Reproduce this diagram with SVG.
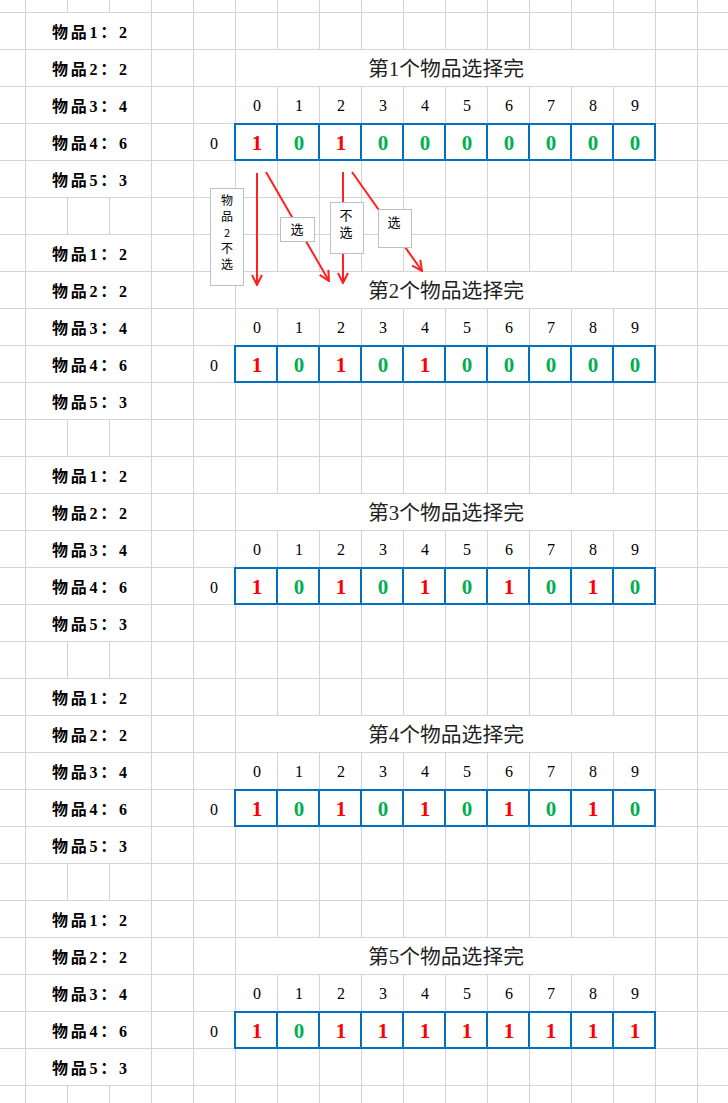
<svg xmlns="http://www.w3.org/2000/svg" width="728" height="1103" viewBox="0 0 728 1103">
<style>
.bg{fill:#ffffff}
.grid{stroke:#d4d4d4;stroke-width:1;fill:none}
.lbl{font-family:"Liberation Serif","Noto Sans CJK SC",serif;font-size:16px;font-weight:bold;fill:#000}
.title{font-family:"Liberation Serif","Noto Sans CJK SC",serif;font-size:20px;fill:#222;text-anchor:middle}
.hd{font-family:"Liberation Serif",serif;font-size:16px;fill:#000;text-anchor:middle}
.v1{font-family:"Liberation Serif",serif;font-size:21px;font-weight:bold;fill:#ff0000;text-anchor:middle}
.v0{font-family:"Liberation Serif",serif;font-size:21px;font-weight:bold;fill:#00b050;text-anchor:middle}
.tbl{fill:none;stroke:#0070c0;stroke-width:2}
.box{fill:#ffffff;stroke:#bfbfbf;stroke-width:1}
.ct{font-family:"Noto Sans CJK SC",sans-serif;font-size:13px;fill:#000;text-anchor:middle}
.cs{font-family:"Noto Sans CJK SC",sans-serif;font-size:12px;fill:#000;text-anchor:middle}
.arr{stroke:#ff2020;stroke-width:2;fill:none}
</style>
<defs>
<marker id="ah" markerUnits="userSpaceOnUse" viewBox="0 0 12 12" markerWidth="12" markerHeight="12" refX="11" refY="6" orient="auto">
<path d="M1,1 L11,6 L1,11" fill="none" stroke="#ff2020" stroke-width="2"/>
</marker>
<g id="labels">
<text class="lbl" x="52" y="37.5" textLength="75" lengthAdjust="spacing">物品1：2</text>
<text class="lbl" x="52" y="74.5" textLength="75" lengthAdjust="spacing">物品2：2</text>
<text class="lbl" x="52" y="111.5" textLength="75" lengthAdjust="spacing">物品3：4</text>
<text class="lbl" x="52" y="148.5" textLength="75" lengthAdjust="spacing">物品4：6</text>
<text class="lbl" x="52" y="185.5" textLength="75" lengthAdjust="spacing">物品5：3</text>
<text class="hd" x="214" y="149">0</text>
<g>
<text class="hd" x="257" y="111">0</text><text class="hd" x="299" y="111">1</text><text class="hd" x="341" y="111">2</text><text class="hd" x="383" y="111">3</text><text class="hd" x="425" y="111">4</text><text class="hd" x="467" y="111">5</text><text class="hd" x="509" y="111">6</text><text class="hd" x="551" y="111">7</text><text class="hd" x="593" y="111">8</text><text class="hd" x="635" y="111">9</text>
</g>
<rect class="tbl" x="235" y="124" width="420" height="36"/>
<path class="tbl" d="M277,124V160M319,124V160M361,124V160M403,124V160M445,124V160M487,124V160M529,124V160M571,124V160M613,124V160"/>
</g>
</defs>
<rect class="bg" x="0" y="0" width="728" height="1103"/>
<g id="grid" class="grid">
<path d="M0,12.5H728M0,49.5H728M0,86.5H728M0,123.5H728M0,160.5H728M0,197.5H728M0,234.5H728M0,271.5H728M0,308.5H728M0,345.5H728M0,382.5H728M0,419.5H728M0,456.5H728M0,493.5H728M0,530.5H728M0,567.5H728M0,604.5H728M0,641.5H728M0,678.5H728M0,715.5H728M0,752.5H728M0,789.5H728M0,826.5H728M0,863.5H728M0,900.5H728M0,937.5H728M0,974.5H728M0,1011.5H728M0,1048.5H728M0,1085.5H728"/>
<path d="M25.5,0V1103M151.5,0V1103M193.5,0V1103M235.5,0V1103M655.5,0V1103M697.5,0V1103"/>
<path d="M67.5,0V12.5M67.5,197.5V234.5M67.5,419.5V456.5M67.5,641.5V678.5M67.5,863.5V900.5M67.5,1085.5V1103M109.5,0V12.5M109.5,197.5V234.5M109.5,419.5V456.5M109.5,641.5V678.5M109.5,863.5V900.5M109.5,1085.5V1103"/>
<path id="vcol" d="M277.5,0V49.5M277.5,86.5V271.5M277.5,308.5V493.5M277.5,530.5V715.5M277.5,752.5V937.5M277.5,974.5V1103"/>
<use href="#vcol" x="42"/><use href="#vcol" x="84"/><use href="#vcol" x="126"/><use href="#vcol" x="168"/><use href="#vcol" x="210"/><use href="#vcol" x="252"/><use href="#vcol" x="294"/><use href="#vcol" x="336"/>
</g>
<g id="block1">
<use href="#labels"/>
<text class="title" x="446" y="76" textLength="156" lengthAdjust="spacingAndGlyphs">第1个物品选择完</text>
<text class="v1" x="257" y="150">1</text><text class="v0" x="299" y="150">0</text><text class="v1" x="341" y="150">1</text><text class="v0" x="383" y="150">0</text><text class="v0" x="425" y="150">0</text><text class="v0" x="467" y="150">0</text><text class="v0" x="509" y="150">0</text><text class="v0" x="551" y="150">0</text><text class="v0" x="593" y="150">0</text><text class="v0" x="635" y="150">0</text>
</g>
<g id="block2" transform="translate(0,222)">
<use href="#labels"/>
<text class="title" x="446" y="76" textLength="156" lengthAdjust="spacingAndGlyphs">第2个物品选择完</text>
<text class="v1" x="257" y="150">1</text><text class="v0" x="299" y="150">0</text><text class="v1" x="341" y="150">1</text><text class="v0" x="383" y="150">0</text><text class="v1" x="425" y="150">1</text><text class="v0" x="467" y="150">0</text><text class="v0" x="509" y="150">0</text><text class="v0" x="551" y="150">0</text><text class="v0" x="593" y="150">0</text><text class="v0" x="635" y="150">0</text>
</g>
<g id="block3" transform="translate(0,444)">
<use href="#labels"/>
<text class="title" x="446" y="76" textLength="156" lengthAdjust="spacingAndGlyphs">第3个物品选择完</text>
<text class="v1" x="257" y="150">1</text><text class="v0" x="299" y="150">0</text><text class="v1" x="341" y="150">1</text><text class="v0" x="383" y="150">0</text><text class="v1" x="425" y="150">1</text><text class="v0" x="467" y="150">0</text><text class="v1" x="509" y="150">1</text><text class="v0" x="551" y="150">0</text><text class="v1" x="593" y="150">1</text><text class="v0" x="635" y="150">0</text>
</g>
<g id="block4" transform="translate(0,666)">
<use href="#labels"/>
<text class="title" x="446" y="76" textLength="156" lengthAdjust="spacingAndGlyphs">第4个物品选择完</text>
<text class="v1" x="257" y="150">1</text><text class="v0" x="299" y="150">0</text><text class="v1" x="341" y="150">1</text><text class="v0" x="383" y="150">0</text><text class="v1" x="425" y="150">1</text><text class="v0" x="467" y="150">0</text><text class="v1" x="509" y="150">1</text><text class="v0" x="551" y="150">0</text><text class="v1" x="593" y="150">1</text><text class="v0" x="635" y="150">0</text>
</g>
<g id="block5" transform="translate(0,888)">
<use href="#labels"/>
<text class="title" x="446" y="76" textLength="156" lengthAdjust="spacingAndGlyphs">第5个物品选择完</text>
<text class="v1" x="257" y="150">1</text><text class="v0" x="299" y="150">0</text><text class="v1" x="341" y="150">1</text><text class="v1" x="383" y="150">1</text><text class="v1" x="425" y="150">1</text><text class="v1" x="467" y="150">1</text><text class="v1" x="509" y="150">1</text><text class="v1" x="551" y="150">1</text><text class="v1" x="593" y="150">1</text><text class="v1" x="635" y="150">1</text>
</g>
<g id="connectors">
<path class="arr" d="M257,173V285" marker-end="url(#ah)"/>
<path class="arr" d="M266,172L329,281" marker-end="url(#ah)"/>
<path class="arr" d="M343,172V283" marker-end="url(#ah)"/>
<path class="arr" d="M352,172L422,271" marker-end="url(#ah)"/>
</g>
<g id="note1">
<rect class="box" x="210.5" y="188.5" width="33" height="97"/>
<text class="cs"><tspan x="227" y="205">物</tspan><tspan x="227" y="221">品</tspan><tspan x="227" y="237" style="font-size:11px">2</tspan><tspan x="227" y="253">不</tspan><tspan x="227" y="269">选</tspan></text>
</g>
<g id="note2">
<rect class="box" x="280.5" y="217.5" width="34" height="24"/>
<text class="ct" x="297" y="234">选</text>
</g>
<g id="note3">
<rect class="box" x="330.5" y="202.5" width="33" height="51"/>
<text class="ct"><tspan x="346" y="220">不</tspan><tspan x="346" y="237">选</tspan></text>
</g>
<g id="note4">
<rect class="box" x="378.5" y="209.5" width="33" height="38"/>
<text class="ct" x="394" y="227">选</text>
</g>
</svg>
